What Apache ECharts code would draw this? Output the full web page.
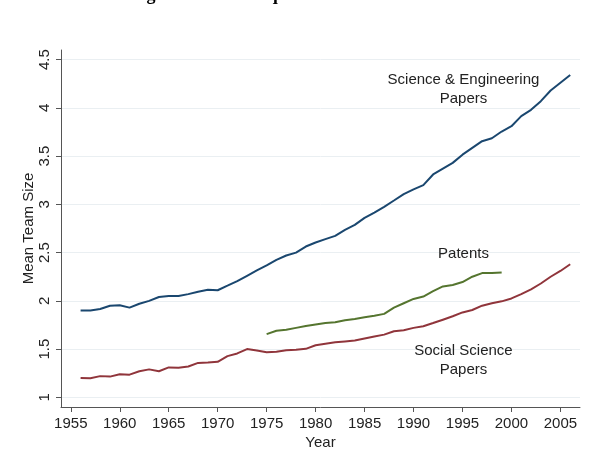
<!DOCTYPE html>
<html>
<head>
<meta charset="utf-8">
<script src="https://cdn.jsdelivr.net/npm/echarts@6/dist/echarts.min.js"></script>
<style>
  html, body { margin: 0; padding: 0; background: #fff; }
  #chart { width: 599px; height: 458px; }
</style>
</head>
<body>
<div id="chart"></div>
<script>
var years = [];
for (var y = 1956; y <= 2006; y++) years.push(y);

var sciEng = [1.90, 1.90, 1.915, 1.95, 1.955, 1.93, 1.97, 2.00, 2.04, 2.05,
  2.05, 2.07, 2.095, 2.115, 2.11, 2.157, 2.205, 2.26, 2.315, 2.367,
  2.425, 2.47, 2.50, 2.563, 2.605, 2.64, 2.674, 2.736, 2.787, 2.86,
  2.915, 2.975, 3.04, 3.107, 3.156, 3.20, 3.31, 3.37, 3.43, 3.515,
  3.585, 3.655, 3.685, 3.755, 3.81, 3.915, 3.98, 4.07, 4.18, 4.26, 4.34];

var socSci = [1.20, 1.197, 1.22, 1.215, 1.24, 1.235, 1.27, 1.29, 1.27, 1.31,
  1.307, 1.32, 1.357, 1.36, 1.368, 1.427, 1.455, 1.50, 1.486, 1.468,
  1.472, 1.489, 1.493, 1.503, 1.54, 1.556, 1.57, 1.58, 1.59, 1.61,
  1.63, 1.65, 1.685, 1.695, 1.72, 1.737, 1.77, 1.805, 1.84, 1.88,
  1.905, 1.95, 1.975, 1.995, 2.025, 2.07, 2.12, 2.18, 2.25, 2.31, 2.38];

var patentYears = [];
for (var p = 1975; p <= 1999; p++) patentYears.push(p);
var patents = [1.655, 1.69, 1.70, 1.72, 1.74, 1.755, 1.77, 1.778, 1.80, 1.813,
  1.83, 1.845, 1.865, 1.93, 1.975, 2.02, 2.045, 2.10, 2.15, 2.165,
  2.195, 2.25, 2.288, 2.29, 2.295];

var xTicks = [1955, 1960, 1965, 1970, 1975, 1980, 1985, 1990, 1995, 2000, 2005];
var yTicks = [1, 1.5, 2, 2.5, 3, 3.5, 4, 4.5];

function pairs(xs, vs) {
  return xs.map(function (x, i) { return [x, vs[i]]; });
}

var chart = echarts.init(document.getElementById('chart'));

var sans = 'Liberation Sans, Arial, sans-serif';

var labelStyle = {
  show: true,
  position: 'inside',
  color: '#222',
  fontFamily: sans,
  fontSize: 15,
  lineHeight: 19,
  align: 'center'
};

function note(x, yv, text) {
  return {
    silent: true,
    symbol: 'circle',
    symbolSize: 0,
    data: [{ coord: [x, yv], label: Object.assign({ formatter: text }, labelStyle) }]
  };
}

var option = {
  animation: false,
  backgroundColor: '#fff',
  title: {
    text: 'Figure 3: The Ubiquitous Rise in Teamwork',
    left: 'center',
    top: -19,
    textStyle: {
      fontFamily: 'Liberation Serif, Times New Roman, serif',
      fontWeight: 'bold',
      fontSize: 18,
      color: '#000'
    }
  },
  grid: { left: 61, right: 19, top: 50, bottom: 51, containLabel: false },
  xAxis: {
    type: 'value',
    min: 1954,
    max: 2007,
    name: 'Year',
    nameLocation: 'middle',
    nameGap: 28,
    nameMoveOverlap: false,
    nameTextStyle: { color: '#222', fontSize: 15, fontFamily: sans },
    axisLine: { show: true, lineStyle: { color: '#555', width: 1 } },
    axisTick: { show: true, length: 5, customValues: xTicks, lineStyle: { color: '#555' } },
    axisLabel: {
      customValues: xTicks,
      formatter: function (v) { return String(v); },
      margin: 9,
      color: '#222',
      fontSize: 15,
      fontFamily: sans
    },
    splitLine: { show: false }
  },
  yAxis: {
    type: 'value',
    min: 0.9,
    max: 4.6,
    name: 'Mean Team Size',
    nameLocation: 'middle',
    nameGap: 25,
    nameMoveOverlap: false,
    nameTextStyle: { color: '#222', fontSize: 15, fontFamily: sans },
    axisLine: { show: true, lineStyle: { color: '#555', width: 1 } },
    axisTick: { show: true, length: 5, customValues: yTicks, lineStyle: { color: '#555' } },
    axisLabel: {
      customValues: yTicks,
      rotate: 90,
      margin: 9,
      color: '#222',
      fontSize: 15,
      fontFamily: sans
    },
    splitLine: { show: true, lineStyle: { color: '#eaeff2', width: 1 } }
  },
  series: [
    {
      name: 'Science & Engineering Papers',
      type: 'line',
      data: pairs(years, sciEng),
      showSymbol: false,
      lineStyle: { color: '#1a476f', width: 2 },
      markPoint: note(1995.1, 4.187, 'Science & Engineering\nPapers')
    },
    {
      name: 'Patents',
      type: 'line',
      data: pairs(patentYears, patents),
      showSymbol: false,
      lineStyle: { color: '#55752f', width: 2 },
      markPoint: note(1995.1, 2.49, 'Patents')
    },
    {
      name: 'Social Science Papers',
      type: 'line',
      data: pairs(years, socSci),
      showSymbol: false,
      lineStyle: { color: '#90353b', width: 2 },
      markPoint: note(1995.1, 1.387, 'Social Science\nPapers')
    }
  ]
};

chart.setOption(option);
</script>
</body>
</html>
